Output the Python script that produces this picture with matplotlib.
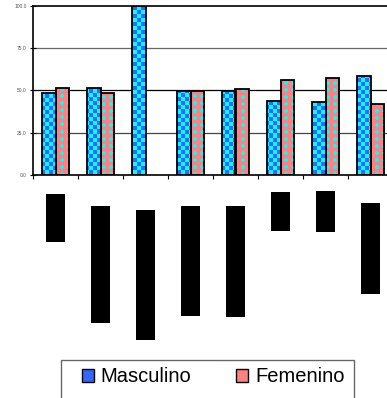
import numpy as np
import matplotlib
matplotlib.use("Agg")
import matplotlib.pyplot as plt
from matplotlib.patches import Patch, Rectangle

plt.rcParams['font.family'] = ['Liberation Sans', 'DejaVu Sans']

# ---------------- data ----------------
categories = ["G1", "G2", "G3", "G4", "G5", "G6", "G7", "G8"]
masculino = [48.5, 51.5, 100.0, 49.9, 49.5, 43.8, 43.0, 58.4]
femenino = [51.5, 48.5, 0.0, 49.9, 50.7, 56.2, 57.2, 41.8]
y_ticks = [0, 25, 50, 75, 100]
y_ticklabels = ["0.0", "25.0", "50.0", "75.0", "100.0"]
series_names = ["Masculino", "Femenino"]
# black blocks below the chart (top offset and bottom offset, arbitrary units)
block_top = [9, 21, 25, 21, 21, 7, 6, 18]
block_bottom = [57, 138, 155, 131, 132, 46, 47, 109]

W, H = 387, 398
fig = plt.figure(figsize=(W / 100, H / 100), dpi=100)

ax_l, ax_r, ax_t, ax_b = 33, 393, 6, 175
ax = fig.add_axes([ax_l / W, 1 - ax_b / H, (ax_r - ax_l) / W, (ax_b - ax_t) / H])
n = len(categories)
x = np.arange(n)
bw = 0.29

ax.set_xlim(-0.5, n - 0.5)
ax.set_ylim(0, 100)

# patterns
pw, ph = ax_r - ax_l, ax_b - ax_t
ii, jj = np.mgrid[0:ph, 0:pw]
cyan = np.array([0, 255, 255]) / 255
blue = np.array([51, 102, 255]) / 255
salmon = np.array([255, 128, 128]) / 255
checker = ((ii // 4 + jj // 4) % 2).astype(bool)
pat_m = np.where(checker[..., None], blue, cyan)
cell = 7
di = (ii % cell) - (cell - 1) / 2
dj = (jj % cell) - (cell - 1) / 2
circ = (di ** 2 + dj ** 2) <= 3.6 ** 2
pat_f = np.where(circ[..., None], salmon, cyan)

bars_m = ax.bar(x - bw / 2, masculino, bw, facecolor='none', edgecolor='black', linewidth=1.3, zorder=3)
bars_f = ax.bar(x + bw / 2, femenino, bw, facecolor='none', edgecolor='black', linewidth=1.3, zorder=3)
for bars, pat in ((bars_m, pat_m), (bars_f, pat_f)):
    for b in bars:
        if b.get_height() <= 0:
            b.set_linewidth(0)
            continue
        im = ax.imshow(pat, extent=(-0.5, n - 0.5, 0, 100), aspect='auto',
                       interpolation='nearest', zorder=2)
        im.set_clip_path(b)

ax.set_yticks(y_ticks)
ax.set_yticklabels(y_ticklabels, fontsize=3.5, color='#555555')
ax.set_xticks(np.arange(n + 1) - 0.5)
ax.set_xticklabels([])
ax.tick_params(axis='y', direction='inout', length=5, width=0.8, pad=2)
ax.tick_params(axis='x', direction='out', length=3, width=0.8)
for yv, c in ((25, '#444444'), (50, '#000000'), (75, '#666666')):
    ax.axhline(yv, color=c, linewidth=0.9, zorder=1)
for s in ('left', 'bottom', 'top'):
    ax.spines[s].set_color('black')
    ax.spines[s].set_linewidth(1.2)
ax.spines['right'].set_visible(False)

# black blocks
ax2 = fig.add_axes([ax_l / W, 1 - 345 / H, (ax_r - ax_l) / W, (345 - 185) / H])
ax2.set_xlim(-0.5, n - 0.5)
ax2.set_ylim(160, 0)
ax2.bar(x, np.array(block_bottom) - np.array(block_top), 0.42, bottom=block_top, color='black')
ax2.axis('off')

# legend
fig.patches.append(Rectangle((61 / W, -0.05), (354 - 61) / W, 0.05 + (H - 360) / H,
                             transform=fig.transFigure, facecolor='white',
                             edgecolor='#666666', linewidth=1.0))
handles = [Patch(facecolor='#3366FF', edgecolor='black', linewidth=1.0),
           Patch(facecolor='#FF8080', edgecolor='black', linewidth=1.0)]
fig.legend(handles, series_names, loc='center', bbox_to_anchor=(213 / W, 1 - 377 / H),
           ncol=2, frameon=False, fontsize=14.5, handlelength=0.6, handleheight=0.6,
           handletextpad=0.35, columnspacing=2.2)

fig.savefig("out.png", dpi=100)
